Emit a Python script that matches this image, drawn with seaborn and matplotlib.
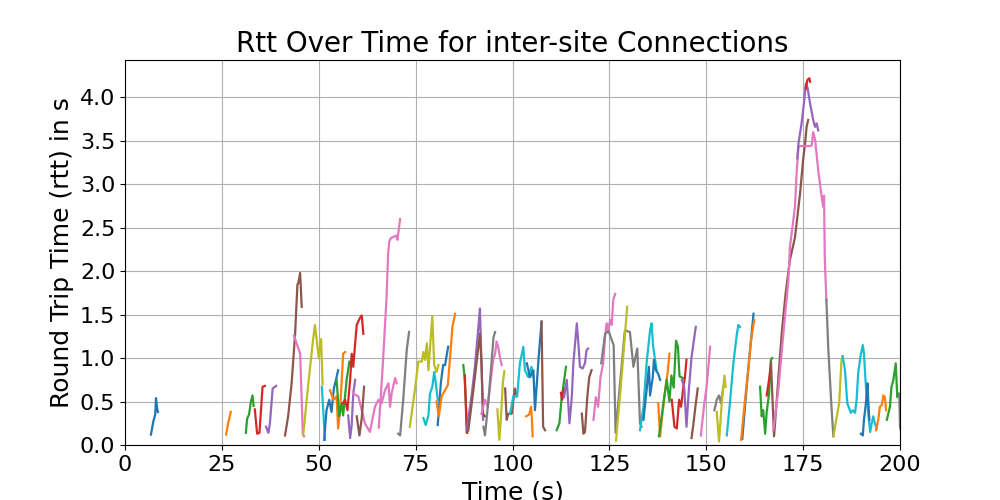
import pandas as pd
import matplotlib
matplotlib.use('Agg')
import matplotlib.pyplot as plt
from matplotlib.ticker import MultipleLocator, FormatStrFormatter
import seaborn as sns

# Mỗi kết nối: thời gian (s), rtt (s), màu
conn_times = [
    [6.7, 7.3, 7.8, 8.0, 8.3, 8.5],
    [26.1, 26.6, 27.3],
    [31.2, 31.5, 32.0, 32.5, 32.9, 33.2],
    [33.5, 34.1, 34.7, 35.5, 36.1],
    [36.4, 37.0, 37.4, 38.1, 39.0],
    [41.3, 42.1, 43.0, 43.9, 44.5, 44.7, 45.2, 45.6],
    [43.6, 45.2, 45.9, 46.2],
    [46.0, 47.3, 48.5, 49.0, 49.5, 50.0, 50.6, 51.0],
    [50.8, 51.6],
    [51.4, 52.0, 52.7, 53.3, 53.9, 54.6, 55.0],
    [52.9, 53.8, 54.6, 55.0, 55.5, 56.3, 56.8],
    [54.6, 55.3, 55.9, 56.3, 57.2, 57.9],
    [56.2, 56.8, 57.4, 58.1, 58.5, 58.9, 59.4, 59.8, 60.6, 61.1, 61.5],
    [57.6, 58.1, 58.5, 58.9, 59.4],
    [58.9, 60.2, 61.1, 61.9, 63.2, 64.5, 65.4, 66.2, 67.1, 68.0, 68.4, 68.8, 69.7, 70.1],
    [59.8, 60.5, 61.1, 61.7],
    [65.5, 66.5, 67.5, 67.9, 68.2, 68.6, 70.0, 70.3, 71.0],
    [70.5, 71.0, 71.8, 72.7, 73.3],
    [73.5, 74.8, 75.7, 76.6, 77.0, 77.4, 77.9, 78.3, 79.3, 79.8, 80.4, 80.9],
    [77.0, 77.6, 78.3, 78.7, 79.3, 79.8, 80.2, 80.7],
    [80.7, 81.0, 81.5, 82.1, 82.6, 83.0, 83.4],
    [80.4, 81.0, 81.7, 82.6, 83.3, 83.9, 84.5, 85.2],
    [87.3, 87.6, 87.9, 88.3],
    [87.7, 88.2, 88.4],
    [88.2, 89.5, 90.3, 91.2, 91.6, 92.4],
    [88.6, 89.9, 90.7, 91.6, 92.0, 92.4, 92.9],
    [92.0, 92.9, 93.6, 94.2, 95.0, 95.5, 95.9, 96.3, 96.8, 97.2],
    [92.5, 92.9, 93.3, 93.8, 94.5, 95.1, 95.5],
    [96.1, 96.6, 97.0, 97.5, 97.9],
    [98.1, 98.5, 98.9, 99.8, 100.6, 101.1],
    [99.4, 100.2, 101.2, 101.9, 102.8, 103.2, 104.1, 104.9, 105.4],
    [103.5, 104.3, 104.8, 105.0, 105.2],
    [103.7, 104.5, 105.4, 105.8, 106.7, 107.5],
    [107.5, 107.9, 108.4],
    [111.4, 112.1, 112.7, 113.1, 113.8],
    [112.5, 112.8, 113.3],
    [113.3, 114.0, 114.7, 115.3, 115.7, 116.6, 117.0, 117.4, 118.1, 118.7, 119.1, 119.5],
    [117.9, 118.3, 118.7, 119.3, 119.8, 120.4],
    [120.9, 121.5, 122.1, 122.7, 123.4, 123.9, 124.3, 124.7, 125.2, 125.6, 126.0, 126.5],
    [122.9, 123.9, 124.8, 125.6, 126.1, 126.6, 129.0, 130.3, 131.2, 132.2, 132.9, 133.3],
    [126.7, 128.0, 129.6],
    [132.9, 133.8, 134.6, 135.5, 135.9, 136.3, 136.8, 137.2],
    [133.8, 134.6, 135.2, 135.5, 136.2, 136.5, 137.0, 137.6, 138.1],
    [137.6, 138.1, 138.7, 139.4, 140.0, 140.5],
    [137.8, 139.0, 139.8, 140.5, 141.0, 141.6, 142.2, 142.7, 143.1, 144.0],
    [141.1, 141.8, 142.4, 143.0, 143.5, 144.1, 144.5, 144.9],
    [143.7, 144.3, 144.9, 145.5, 146.2, 147.3],
    [146.2, 146.6, 147.2, 147.8],
    [148.6, 149.5, 150.1, 151.0],
    [152.1, 152.7, 153.3, 153.8, 154.4],
    [152.7, 153.3, 154.0, 154.7, 155.0],
    [155.3, 156.1, 157.0, 157.9, 158.3, 158.7],
    [159.3, 160.3, 161.2, 162.2],
    [159.0, 160.0, 160.9, 161.7, 162.4],
    [163.9, 164.3, 164.7, 165.2, 165.6, 166.2, 166.7, 167.0],
    [165.6, 166.2, 166.7],
    [166.7, 167.5, 168.5, 169.5, 170.5, 171.6, 172.9, 174.2, 175.0, 175.5, 175.9, 176.3],
    [167.3, 168.6, 169.9, 171.2, 171.6, 172.9, 173.3, 173.8, 174.2, 176.8, 177.2, 177.6,
     178.1, 178.9, 179.8, 180.2, 180.4, 180.6, 181.0],
    [173.5, 173.8, 174.6, 175.2, 175.7, 176.1, 176.8, 177.6, 178.1, 178.5, 178.9],
    [175.7, 176.1, 176.6, 176.8],
    [181.0, 181.5, 182.3, 182.8],
    [182.8, 183.7, 184.3, 184.9, 185.2],
    [185.2, 185.8, 186.4, 186.9, 187.3, 187.8, 188.4, 188.8, 189.2, 189.8, 190.4, 190.7,
     191.2, 191.8, 192.3, 192.7, 193.1, 193.5, 194.0],
    [189.9, 190.4, 190.7, 191.2, 191.6, 191.8, 192.1],
    [193.8, 194.4, 194.8, 195.3, 195.7, 196.1, 196.4],
    [196.6, 197.4, 197.8, 198.3, 198.9, 199.3, 199.6],
    [199.8, 200.0, 200.3],
]

conn_rtts = [
    [0.12, 0.27, 0.35, 0.54, 0.42, 0.38],
    [0.12, 0.25, 0.38],
    [0.14, 0.3, 0.35, 0.5, 0.57, 0.45],
    [0.41, 0.13, 0.14, 0.67, 0.68],
    [0.21, 0.14, 0.25, 0.65, 0.68],
    [0.11, 0.33, 0.71, 1.28, 1.85, 1.86, 1.98, 1.59],
    [1.26, 1.05, 0.12, 0.1],
    [0.12, 0.7, 1.2, 1.38, 1.2, 1.0, 1.22, 0.7],
    [0.67, 0.06],
    [0.06, 0.4, 0.52, 0.38, 0.65, 0.78, 0.86],
    [0.63, 0.52, 0.56, 0.19, 0.4, 1.05, 1.07],
    [0.75, 0.33, 0.48, 0.34, 0.75, 0.96],
    [0.48, 0.52, 0.4, 0.75, 1.05, 0.9, 1.17, 1.38, 1.46, 1.49, 1.28],
    [0.34, 0.08, 0.23, 0.59, 0.75],
    [0.59, 0.56, 0.4, 0.25, 0.15, 0.44, 0.52, 0.48, 0.63, 0.71, 0.44, 0.59, 0.77, 0.71],
    [0.33, 0.11, 0.31, 0.67],
    [0.2, 0.9, 1.7, 2.2, 2.34, 2.38, 2.41, 2.36, 2.6],
    [0.13, 0.11, 0.52, 1.09, 1.3],
    [0.21, 0.63, 0.96, 0.96, 1.07, 0.98, 1.17, 0.86, 1.48, 0.92, 0.84, 0.92],
    [0.31, 0.23, 0.34, 0.59, 0.67, 0.84, 0.71, 0.52],
    [0.23, 0.4, 0.71, 0.92, 0.92, 1.03, 1.13],
    [0.5, 0.33, 0.56, 0.63, 0.69, 1.01, 1.36, 1.51],
    [0.92, 0.8, 0.55, 0.14],
    [0.8, 0.14, 0.16],
    [0.17, 0.59, 0.9, 1.36, 1.57, 0.29],
    [0.17, 0.63, 0.94, 1.28, 0.94, 0.36, 0.33],
    [0.36, 0.52, 0.44, 0.67, 0.98, 1.05, 1.19, 1.13, 1.0, 0.92],
    [0.21, 0.11, 0.29, 0.52, 0.9, 1.24, 1.3],
    [0.41, 0.06, 0.3, 0.71, 0.85],
    [0.65, 0.29, 0.36, 0.36, 0.65, 0.56],
    [0.36, 0.56, 0.56, 0.94, 1.13, 0.86, 0.78, 0.9, 0.78],
    [0.33, 0.35, 0.44, 0.3, 0.1],
    [0.94, 0.78, 0.86, 0.4, 0.98, 1.42],
    [1.42, 0.21, 0.17],
    [0.17, 0.25, 0.55, 0.67, 0.9],
    [0.6, 0.52, 0.65],
    [0.55, 0.75, 0.25, 0.55, 0.94, 1.4, 1.17, 0.9, 0.88, 0.94, 1.09, 1.11],
    [0.36, 0.13, 0.15, 0.55, 0.78, 0.86],
    [0.29, 0.55, 0.44, 0.78, 0.94, 1.25, 1.4, 1.32, 1.44, 1.38, 1.67, 1.74],
    [0.94, 1.28, 1.31, 1.21, 1.15, 0.14, 1.32, 1.3, 0.9, 1.11, 0.25, 0.21],
    [0.05, 0.7, 1.59],
    [0.17, 0.44, 0.94, 1.32, 1.4, 1.13, 0.98, 0.86],
    [0.29, 0.63, 0.9, 0.57, 0.78, 0.98, 0.86, 0.82, 0.75],
    [0.48, 0.1, 0.36, 0.63, 0.82, 1.05],
    [0.1, 0.5, 0.75, 0.5, 0.8, 0.66, 1.2, 1.13, 0.79, 0.77],
    [0.52, 0.21, 0.19, 0.52, 0.44, 0.67, 0.78, 0.98],
    [0.75, 0.67, 0.21, 0.63, 1.01, 1.36],
    [0.08, 0.21, 0.44, 0.65],
    [0.11, 0.48, 0.67, 1.13],
    [0.4, 0.52, 0.57, 0.48, 0.67],
    [0.38, 0.04, 0.48, 0.8, 0.67],
    [0.11, 0.48, 0.94, 1.28, 1.38, 1.36],
    [0.07, 0.6, 1.05, 1.51],
    [0.06, 0.52, 0.9, 1.25, 1.44],
    [0.67, 0.33, 0.4, 0.13, 0.38, 0.59, 0.98, 1.0],
    [0.57, 0.75, 0.94],
    [0.95, 0.1, 0.7, 1.3, 1.75, 2.13, 2.39, 2.89, 3.28, 3.47, 3.66, 3.74],
    [0.17, 0.63, 1.28, 1.9, 2.28, 2.74, 3.12, 3.43, 3.44, 3.44, 3.45, 3.6,
     3.51, 3.16, 2.85, 2.74, 2.87, 2.13, 1.67],
    [3.3, 3.47, 3.7, 3.93, 4.16, 4.12, 3.93, 3.74, 3.66, 3.7, 3.62],
    [4.1, 4.2, 4.22, 4.18],
    [1.67, 1.1, 0.45, 0.1],
    [0.1, 0.33, 0.48, 0.98, 1.02],
    [1.02, 0.86, 0.48, 0.42, 0.37, 0.4, 0.37, 0.52, 0.82, 1.02, 1.15, 1.05,
     0.67, 0.37, 0.15, 0.25, 0.33, 0.25, 0.19],
    [0.13, 0.11, 0.29, 0.48, 0.71, 0.52, 0.29],
    [0.17, 0.29, 0.44, 0.46, 0.57, 0.55, 0.4],
    [0.29, 0.44, 0.67, 0.75, 0.94, 0.55, 0.59],
    [0.59, 0.21, 0.15],
]

conn_colors = [
    'tab:blue', 'tab:orange', 'tab:green', 'tab:red', 'tab:purple', 'tab:brown',
    'tab:pink', 'tab:olive', 'tab:cyan', 'tab:blue', 'tab:orange', 'tab:green',
    'tab:red', 'tab:purple', 'tab:pink', 'tab:brown', 'tab:pink', 'tab:gray',
    'tab:olive', 'tab:cyan', 'tab:blue', 'tab:orange', 'tab:green', 'tab:red',
    'tab:purple', 'tab:brown', 'tab:pink', 'tab:gray', 'tab:olive', 'tab:brown',
    'tab:cyan', 'tab:orange', 'tab:blue', 'tab:brown', 'tab:green', 'tab:red',
    'tab:purple', 'tab:brown', 'tab:pink', 'tab:gray', 'tab:olive', 'tab:cyan',
    'tab:blue', 'tab:orange', 'tab:green', 'tab:red', 'tab:purple', 'tab:brown',
    'tab:pink', 'tab:gray', 'tab:olive', 'tab:cyan', 'tab:blue', 'tab:orange',
    'tab:green', 'tab:red', 'tab:brown', 'tab:pink', 'tab:purple', 'tab:red',
    'tab:gray', 'tab:olive', 'tab:cyan', 'tab:blue', 'tab:orange', 'tab:green',
    'tab:gray',
]

# Gộp thành bảng dạng dài
rows = []
for i, (ts, rs) in enumerate(zip(conn_times, conn_rtts)):
    for t, r in zip(ts, rs):
        rows.append({'conn': i, 'time': t, 'rtt': r})
df = pd.DataFrame(rows)
palette = {i: c for i, c in enumerate(conn_colors)}

plt.rcParams['font.size'] = 16
fig, ax = plt.subplots(figsize=(10, 5), dpi=100)
sns.lineplot(data=df, x='time', y='rtt', hue='conn', palette=palette,
             estimator=None, sort=False, legend=False, linewidth=1.6, ax=ax)

ax.set_title('Rtt Over Time for inter-site Connections', fontsize=20)
ax.set_xlabel('Time (s)', fontsize=18)
ax.set_ylabel('Round Trip Time (rtt) in s', fontsize=18)
ax.set_xlim(0, 200)
ax.set_ylim(0, 4.43)
ax.yaxis.set_major_locator(MultipleLocator(0.5))
ax.yaxis.set_major_formatter(FormatStrFormatter('%.1f'))
ax.grid(True)

plt.savefig('out.png')
